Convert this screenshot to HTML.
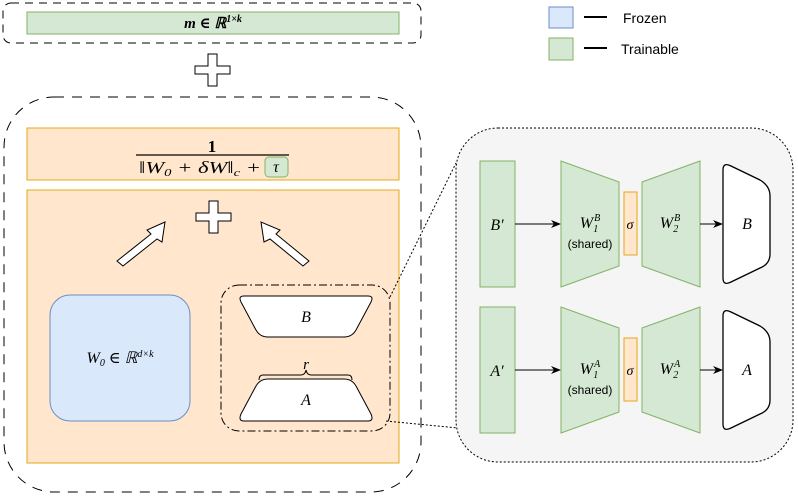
<!DOCTYPE html>
<html><head><meta charset="utf-8"><style>body{margin:0;background:#fff}svg{display:block}.m{font-family:"Liberation Serif","DejaVu Serif",serif}.s{font-family:"Liberation Sans",sans-serif}</style></head>
<body>
<svg width="798" height="499" viewBox="0 0 798 499" xmlns="http://www.w3.org/2000/svg" class="m">
<defs><marker id="ar" markerWidth="10" markerHeight="10" refX="9" refY="5" orient="auto" markerUnits="userSpaceOnUse"><path d="M0,1 L10,5 L0,9 L3,5 z" fill="#000"/></marker></defs>
<rect x="3" y="3" width="418" height="40" rx="8" fill="none" stroke="#000" stroke-dasharray="8,6"/>
<rect x="27" y="12" width="372" height="22" fill="#d5e8d4" stroke="#82b366"/>
<text x="213" y="28" text-anchor="middle" font-size="15" font-style="italic" font-weight="bold">m ∈ ℝ<tspan font-size="10" dy="-6">1×k</tspan></text>
<path d="M208,54 h9 v12 h13 v8 h-13 v12 h-9 v-12 h-13 v-8 h13 z" fill="#fff" stroke="#000"/>
<rect x="4" y="97" width="417" height="395" rx="50" fill="none" stroke="#000" stroke-dasharray="10,8"/>
<rect x="27" y="128" width="372" height="52" fill="#ffe6cc" stroke="#e6a817"/>
<text x="212" y="152" text-anchor="middle" font-size="17" font-weight="bold">1</text>
<line x1="136" y1="155" x2="289" y2="155" stroke="#000" stroke-width="1.2"/>
<text x="139" y="173" font-size="17" font-style="italic" textLength="122" lengthAdjust="spacingAndGlyphs">‖W<tspan font-size="11" dy="3">0</tspan><tspan dy="-3"> + δW‖</tspan><tspan font-size="11" dy="3">c</tspan><tspan dy="-3"> +</tspan></text>
<rect x="265" y="157" width="23" height="20" rx="4" fill="#d5e8d4" stroke="#82b366"/>
<text x="276" y="172" text-anchor="middle" font-size="16" font-style="italic">τ</text>
<rect x="27" y="190" width="372" height="273" fill="#ffe6cc" stroke="#e6a817"/>
<path d="M209,201 h9 v12 h13 v8 h-13 v12 h-9 v-12 h-13 v-8 h13 z" fill="#fff" stroke="#000"/>
<path d="M117,261 L151,234 L147,230 L165,222 L162,242 L157,239 L123,266 z" fill="#fff" stroke="#000"/>
<path d="M309,261 L276,234 L280,230 L261,222 L264,242 L270,239 L303,266 z" fill="#fff" stroke="#000"/>
<rect x="50" y="295" width="140" height="126" rx="20" fill="#dae8fc" stroke="#6c8ebf"/>
<text x="120" y="363" text-anchor="middle" font-size="16" font-style="italic">W<tspan font-size="10" dy="3">0</tspan><tspan dy="-3"> ∈ ℝ</tspan><tspan font-size="10" dy="-6">d×k</tspan></text>
<rect x="221" y="285" width="169" height="146" rx="18" fill="none" stroke="#000" stroke-dasharray="8,3,2,3"/>
<path d="M244,296 H368 Q374,296 371,302 L356,330 Q352,337 344,337 H268 Q260,337 256,330 L241,302 Q238,296 244,296 z" fill="#fff" stroke="#000"/>
<text x="306" y="322" text-anchor="middle" font-size="16" font-style="italic">B</text>
<path d="M259,380 Q259,375 263,375 H301 Q305,375 306,370 Q307,375 311,375 H348 Q352,375 352,380" fill="none" stroke="#000"/>
<text x="306" y="369" text-anchor="middle" font-size="15" font-style="italic">r</text>
<path d="M268,379 H344 Q352,379 356,386 L371,414 Q374,421 368,421 H244 Q238,421 241,414 L256,386 Q260,379 268,379 z" fill="#fff" stroke="#000"/>
<text x="306" y="405" text-anchor="middle" font-size="16" font-style="italic">A</text>
<line x1="390" y1="297" x2="456" y2="163" stroke="#000" stroke-dasharray="2,2"/>
<line x1="386" y1="421" x2="458" y2="428" stroke="#000" stroke-dasharray="2,2"/>
<rect x="456" y="128" width="337" height="334" rx="42" fill="#f5f5f5" stroke="#000" stroke-dasharray="2,2"/>
<rect x="480" y="161" width="35" height="126" fill="#d5e8d4" stroke="#82b366"/>
<text x="497" y="230" text-anchor="middle" font-size="16" font-style="italic">B′</text>
<line x1="515" y1="224" x2="560" y2="224" stroke="#000" marker-end="url(#ar)"/>
<path d="M561,161 L619,182 L619,266 L561,287 z" fill="#d5e8d4" stroke="#82b366"/>
<text x="590" y="228" text-anchor="middle" font-size="16" font-style="italic">W<tspan font-size="10" dx="1" dy="-7">B</tspan><tspan font-size="10" dx="-7" dy="11">1</tspan></text>
<text x="590" y="248" text-anchor="middle" font-size="12" class="s">(shared)</text>
<rect x="624" y="192" width="13" height="63" fill="#ffe6cc" stroke="#e6a817"/>
<text x="630" y="229" text-anchor="middle" font-size="14" font-style="italic">σ</text>
<path d="M642,182 L700,161 L700,287 L642,266 z" fill="#d5e8d4" stroke="#82b366"/>
<text x="670" y="228" text-anchor="middle" font-size="16" font-style="italic">W<tspan font-size="10" dx="1" dy="-7">B</tspan><tspan font-size="10" dx="-7" dy="11">2</tspan></text>
<line x1="700" y1="224" x2="722" y2="224" stroke="#000" marker-end="url(#ar)"/>
<path d="M723,170 Q723,162 731,166 L760,180 Q770,186 770,196 V254 Q770,264 760,268 L731,282 Q723,286 723,278 z" fill="#fff" stroke="#000" stroke-width="1.3"/>
<text x="747" y="229" text-anchor="middle" font-size="16" font-style="italic">B</text>
<rect x="480" y="307" width="35" height="126" fill="#d5e8d4" stroke="#82b366"/>
<text x="497" y="376" text-anchor="middle" font-size="16" font-style="italic">A′</text>
<line x1="515" y1="370" x2="560" y2="370" stroke="#000" marker-end="url(#ar)"/>
<path d="M561,307 L619,328 L619,412 L561,433 z" fill="#d5e8d4" stroke="#82b366"/>
<text x="590" y="374" text-anchor="middle" font-size="16" font-style="italic">W<tspan font-size="10" dx="1" dy="-7">A</tspan><tspan font-size="10" dx="-7" dy="11">1</tspan></text>
<text x="590" y="394" text-anchor="middle" font-size="12" class="s">(shared)</text>
<rect x="624" y="338" width="13" height="63" fill="#ffe6cc" stroke="#e6a817"/>
<text x="630" y="375" text-anchor="middle" font-size="14" font-style="italic">σ</text>
<path d="M642,328 L700,307 L700,433 L642,412 z" fill="#d5e8d4" stroke="#82b366"/>
<text x="670" y="374" text-anchor="middle" font-size="16" font-style="italic">W<tspan font-size="10" dx="1" dy="-7">A</tspan><tspan font-size="10" dx="-7" dy="11">2</tspan></text>
<line x1="700" y1="370" x2="722" y2="370" stroke="#000" marker-end="url(#ar)"/>
<path d="M723,316 Q723,308 731,312 L760,326 Q770,332 770,342 V400 Q770,410 760,414 L731,428 Q723,432 723,424 z" fill="#fff" stroke="#000" stroke-width="1.3"/>
<text x="747" y="375" text-anchor="middle" font-size="16" font-style="italic">A</text>
<rect x="549" y="7" width="24" height="21" fill="#dae8fc" stroke="#6c8ebf"/>
<line x1="584" y1="17" x2="607" y2="17" stroke="#000" stroke-width="2"/>
<text x="623" y="23" font-size="14" class="s">Frozen</text>
<rect x="549" y="38" width="24" height="22" fill="#d5e8d4" stroke="#82b366"/>
<line x1="584" y1="48" x2="607" y2="48" stroke="#000" stroke-width="2"/>
<text x="621" y="54" font-size="14" class="s">Trainable</text>
</svg>
</body></html>
